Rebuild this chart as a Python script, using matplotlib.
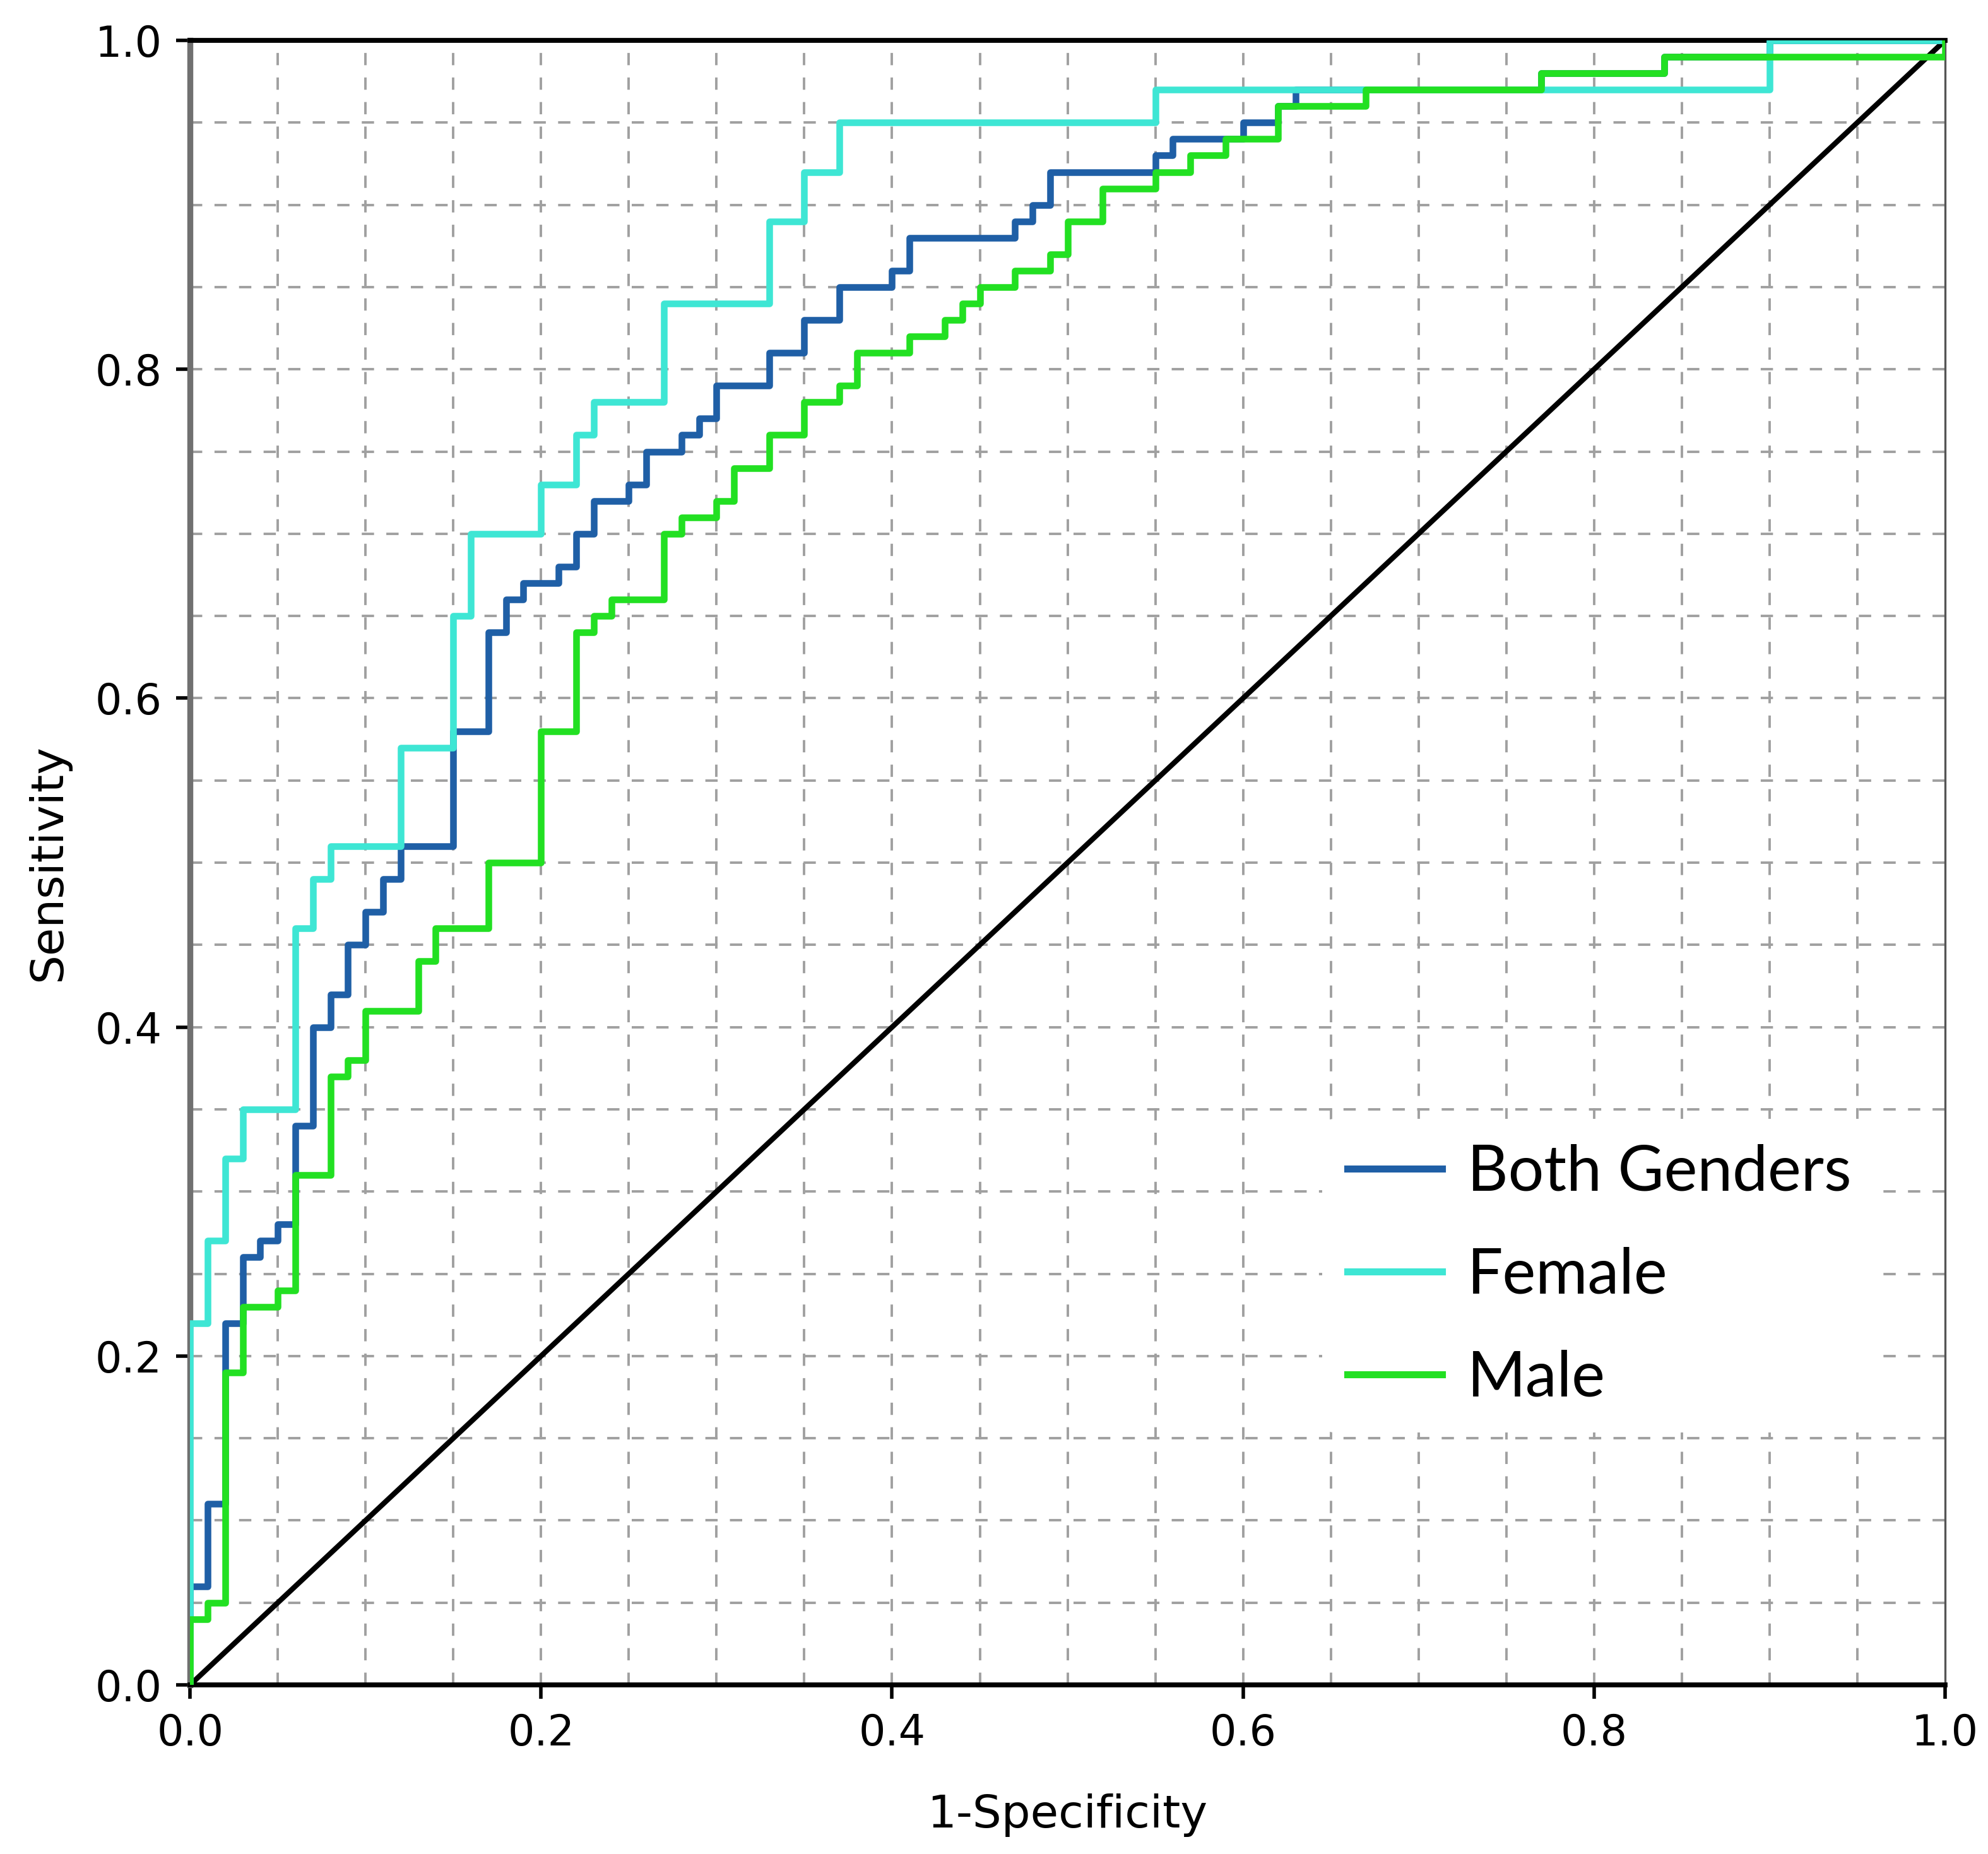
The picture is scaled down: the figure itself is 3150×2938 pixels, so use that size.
import matplotlib
matplotlib.use("Agg")
import matplotlib.pyplot as plt

# ROC points: at each fpr value the curve jumps up to the tpr value
both_fpr = [0.0, 0.0, 0.01, 0.02, 0.03, 0.04, 0.05, 0.06, 0.07, 0.08, 0.09, 0.10,
            0.11, 0.12, 0.15, 0.17, 0.18, 0.19, 0.21, 0.22, 0.23, 0.25, 0.26, 0.28,
            0.29, 0.30, 0.33, 0.35, 0.37, 0.40, 0.41, 0.47, 0.48, 0.49, 0.55, 0.56,
            0.60, 0.62, 0.63, 0.77, 0.84, 0.90, 1.0]
both_tpr = [0.0, 0.06, 0.11, 0.22, 0.26, 0.27, 0.28, 0.34, 0.40, 0.42, 0.45, 0.47,
            0.49, 0.51, 0.58, 0.64, 0.66, 0.67, 0.68, 0.70, 0.72, 0.73, 0.75, 0.76,
            0.77, 0.79, 0.81, 0.83, 0.85, 0.86, 0.88, 0.89, 0.90, 0.92, 0.93, 0.94,
            0.95, 0.96, 0.97, 0.98, 0.99, 1.0, 1.0]

female_fpr = [0.0, 0.0, 0.01, 0.02, 0.03, 0.06, 0.07, 0.08, 0.12, 0.15, 0.16, 0.20,
              0.22, 0.23, 0.27, 0.33, 0.35, 0.37, 0.55, 0.90, 1.0]
female_tpr = [0.0, 0.22, 0.27, 0.32, 0.35, 0.46, 0.49, 0.51, 0.57, 0.65, 0.70, 0.73,
              0.76, 0.78, 0.84, 0.89, 0.92, 0.95, 0.97, 1.0, 1.0]

male_fpr = [0.0, 0.0, 0.01, 0.02, 0.03, 0.05, 0.06, 0.08, 0.09, 0.10, 0.13, 0.14,
            0.17, 0.20, 0.22, 0.23, 0.24, 0.27, 0.28, 0.30, 0.31, 0.33, 0.35, 0.37,
            0.38, 0.41, 0.43, 0.44, 0.45, 0.47, 0.49, 0.50, 0.52, 0.55, 0.57, 0.59,
            0.62, 0.67, 0.77, 0.84, 1.0]
male_tpr = [0.0, 0.04, 0.05, 0.19, 0.23, 0.24, 0.31, 0.37, 0.38, 0.41, 0.44, 0.46,
            0.50, 0.58, 0.64, 0.65, 0.66, 0.70, 0.71, 0.72, 0.74, 0.76, 0.78, 0.79,
            0.81, 0.82, 0.83, 0.84, 0.85, 0.86, 0.87, 0.89, 0.91, 0.92, 0.93, 0.94,
            0.96, 0.97, 0.98, 0.99, 1.0]

series = [
    ("Both Genders", both_fpr, both_tpr, "#1f5fa6"),
    ("Female", female_fpr, female_tpr, "#3ee6d4"),
    ("Male", male_fpr, male_tpr, "#22e022"),
]

ticks = [0.0, 0.2, 0.4, 0.6, 0.8, 1.0]
grid_steps = [i * 0.05 for i in range(1, 20)]


def main():
    fig = plt.figure(figsize=(15.75, 14.69), dpi=200)
    ax = fig.add_axes([0.0956, 0.0912, 0.8828, 0.8870])

    # dashed grid every 0.05
    for g in grid_steps:
        ax.axvline(g, color="#a0a0a0", lw=1.4, ls=(0, (5, 5)), zorder=0)
        ax.axhline(g, color="#a0a0a0", lw=1.4, ls=(0, (5, 5)), zorder=0)

    ax.plot([0, 1], [0, 1], color="black", lw=3.0, zorder=2)

    for name, x, y, col in series:
        ax.step(x, y, where="post", color=col, lw=3.8, label=name, zorder=3)

    ax.set_xlim(0, 1)
    ax.set_ylim(0, 1)
    ax.set_xticks(ticks)
    ax.set_yticks(ticks)
    ax.set_xticklabels([f"{t:.1f}" for t in ticks])
    ax.set_yticklabels([f"{t:.1f}" for t in ticks])
    ax.tick_params(direction="out", length=8, width=2, labelsize=24, pad=8)

    for side in ["bottom", "top"]:
        ax.spines[side].set_color("black")
        ax.spines[side].set_linewidth(2.8)
    ax.spines["left"].set_color("#707070")
    ax.spines["left"].set_linewidth(3.4)
    ax.spines["right"].set_color("#555555")
    ax.spines["right"].set_linewidth(1.2)

    ax.set_xlabel("1-Specificity", fontsize=26, labelpad=22)
    ax.set_ylabel("Sensitivity", fontsize=26, labelpad=14)

    leg = ax.legend(loc="center", bbox_to_anchor=(0.803, 0.249),
                    frameon=True, facecolor="white", edgecolor="none", framealpha=1,
                    handlelength=1.5, handletextpad=0.4, labelspacing=0.72,
                    prop={"family": ["Lato", "DejaVu Sans"], "size": 36})
    for line in leg.get_lines():
        line.set_linewidth(4.0)

    fig.savefig("out.png", dpi=200, facecolor="white")


if __name__ == "__main__":
    main()
